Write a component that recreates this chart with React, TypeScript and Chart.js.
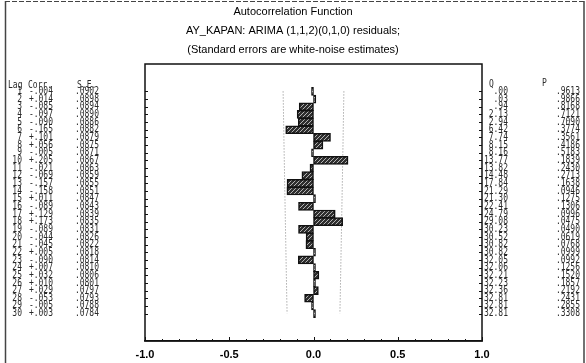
import React, { useEffect, useRef } from "react";
import { Chart, registerables } from "chart.js";

Chart.register(...registerables);

const lags = [1, 2, 3, 4, 5, 6, 7, 8, 9, 10, 11, 12, 13, 14, 15, 16, 17, 18, 19, 20, 21, 22, 23, 24, 25, 26, 27, 28, 29, 30];
const corr = [-0.004, 0.014, -0.085, -0.097, -0.09, -0.165, 0.101, 0.056, -0.005, 0.205, -0.021, -0.069, -0.157, -0.158, 0.011, -0.089, 0.129, 0.173, -0.089, -0.044, -0.045, 0.005, -0.09, 0.007, 0.032, 0.01, 0.029, -0.053, -0.005, 0.003];
const stdErr = [0.0902, 0.0898, 0.0894, 0.089, 0.0886, 0.0882, 0.0879, 0.0875, 0.0871, 0.0867, 0.0863, 0.0859, 0.0855, 0.0851, 0.0847, 0.0843, 0.0839, 0.0835, 0.0831, 0.0826, 0.0822, 0.0818, 0.0814, 0.081, 0.0806, 0.0801, 0.0797, 0.0793, 0.0788, 0.0784];
const qStat = [0.0, 0.03, 0.94, 2.13, 2.94, 6.42, 7.74, 8.15, 8.16, 13.77, 13.82, 14.48, 17.84, 21.29, 21.3, 22.41, 24.79, 29.08, 30.23, 30.52, 30.82, 30.82, 32.05, 32.06, 32.21, 32.23, 32.36, 32.81, 32.81, 32.81];
const pValue = [0.9613, 0.9866, 0.8168, 0.7121, 0.709, 0.3774, 0.3561, 0.4186, 0.5183, 0.1839, 0.243, 0.2713, 0.1638, 0.0946, 0.1275, 0.1306, 0.0996, 0.0475, 0.049, 0.0619, 0.0768, 0.0999, 0.0992, 0.1256, 0.152, 0.1857, 0.2192, 0.2431, 0.2855, 0.3308];
const xTicks = [-1, -0.5, 0, 0.5, 1];
const titleLines = [
  "Autocorrelation Function",
  "AY_KAPAN: ARIMA (1,1,2)(0,1,0) residuals;",
  "(Standard errors are white-noise estimates)",
];

const stripLead = (s: string) => s.replace(/^(-?)0\./, "$1.");
const fmtCorr = (v: number) => (v < 0 ? "-" : "+") + stripLead(Math.abs(v).toFixed(3));

function makePattern(): CanvasPattern | string {
  const c = document.createElement("canvas");
  c.width = 4;
  c.height = 4;
  const g = c.getContext("2d");
  if (!g) return "#444";
  g.fillStyle = "#2e2e2e";
  g.fillRect(0, 0, 4, 4);
  g.strokeStyle = "#b4b4b4";
  g.lineWidth = 1;
  g.beginPath();
  g.moveTo(-1, 5);
  g.lineTo(5, -1);
  g.moveTo(-1, 1);
  g.lineTo(1, -1);
  g.moveTo(3, 5);
  g.lineTo(5, 3);
  g.stroke();
  const p = g.createPattern(c, "repeat");
  return p || "#444";
}

const decor = {
  id: "decor",
  afterDraw(chart: any) {
    const ctx: CanvasRenderingContext2D = chart.ctx;
    const { left, right, top, bottom } = chart.chartArea;
    const xs = chart.scales.x;
    const ys = chart.scales.y;
    ctx.save();
    // outer frame
    ctx.strokeStyle = "#444";
    ctx.lineWidth = 1;
    ctx.setLineDash([5, 2]);
    ctx.beginPath();
    ctx.moveTo(5, 1.5);
    ctx.lineTo(584, 1.5);
    ctx.stroke();
    ctx.setLineDash([]);
    ctx.lineWidth = 1.5;
    ctx.beginPath();
    ctx.moveTo(5.5, 1);
    ctx.lineTo(5.5, 363);
    ctx.moveTo(584, 1);
    ctx.lineTo(584, 363);
    ctx.stroke();

    // titles
    ctx.fillStyle = "#000";
    ctx.font = '11px "Liberation Sans", Arial, sans-serif';
    ctx.textAlign = "center";
    ctx.textBaseline = "middle";
    ctx.fillText(titleLines[0], 293, 12);
    ctx.fillText(titleLines[1], 293, 31);
    ctx.fillText(titleLines[2], 293, 50);

    // plot frame
    ctx.strokeStyle = "#111";
    ctx.lineWidth = 1.5;
    ctx.strokeRect(left, top, right - left, bottom - top);

    // ticks
    ctx.lineWidth = 1;
    ctx.beginPath();
    lags.forEach((l) => {
      const y = Math.round(ys.getPixelForValue(l)) + 0.5;
      ctx.moveTo(left, y);
      ctx.lineTo(left + 3, y);
      ctx.moveTo(right - 3, y);
      ctx.lineTo(right, y);
    });
    for (let k = -10; k <= 10; k++) {
      const x = Math.round(xs.getPixelForValue(k / 10)) + 0.5;
      const len = k % 5 === 0 ? 4 : 2;
      ctx.moveTo(x, bottom);
      ctx.lineTo(x, bottom - len);
    }
    ctx.stroke();

    // tables
    ctx.fillStyle = "#2a2a2a";
    ctx.font = '10px "DejaVu Sans Mono", monospace';
    ctx.textBaseline = "middle";
    const txt = (s: string, x: number, y: number, align: CanvasTextAlign) => {
      ctx.save();
      ctx.translate(x, y);
      ctx.scale(0.8, 1);
      ctx.textAlign = align;
      ctx.fillText(s, 0, 0);
      ctx.restore();
    };
    const hy = ys.getPixelForValue(0.15);
    txt("Lag", 8, hy, "left");
    txt("Corr.", 28, hy, "left");
    txt("S.E.", 77, hy, "left");
    txt("Q", 489, hy - 1, "left");
    txt("P", 542, hy - 2, "left");
    lags.forEach((l, i) => {
      const y = ys.getPixelForValue(l);
      txt(String(l), 22, y, "right");
      txt(fmtCorr(corr[i]), 53, y, "right");
      txt(stripLead(stdErr[i].toFixed(4)), 99, y, "right");
      txt(stripLead(qStat[i].toFixed(2)), 508, y, "right");
      txt(stripLead(pValue[i].toFixed(4)), 580, y, "right");
    });
    ctx.restore();
  },
};

export default function App() {
  const ref = useRef<HTMLCanvasElement | null>(null);
  useEffect(() => {
    document.body.style.margin = "0";
    if (!ref.current) return;
    const pattern = makePattern();
    const chart = new Chart(ref.current, {
      type: "bar",
      data: {
        datasets: [
          {
            type: "bar",
            data: lags.map((l, i) => ({ x: corr[i], y: l })),
            backgroundColor: pattern as any,
            borderColor: "#111",
            borderWidth: 1.5,
            borderSkipped: false,
            barThickness: 8,
            minBarLength: 2,
            indexAxis: "y",
          } as any,
          {
            type: "line",
            data: lags.map((l, i) => ({ x: 2 * stdErr[i], y: l })),
            borderColor: "#808080",
            borderWidth: 1,
            borderDash: [1, 2],
            pointRadius: 0,
            indexAxis: "y",
          } as any,
          {
            type: "line",
            data: lags.map((l, i) => ({ x: -2 * stdErr[i], y: l })),
            borderColor: "#808080",
            borderWidth: 1,
            borderDash: [1, 2],
            pointRadius: 0,
            indexAxis: "y",
          } as any,
        ],
      },
      options: {
        indexAxis: "y",
        responsive: false,
        animation: false,
        devicePixelRatio: 1,
        layout: { padding: { left: 145, right: 104, top: 64, bottom: 0 } },
        plugins: { legend: { display: false }, title: { display: false }, tooltip: { enabled: false } },
        scales: {
          x: {
            type: "linear",
            min: -1,
            max: 1,
            afterBuildTicks: (s: any) => {
              s.ticks = xTicks.map((v) => ({ value: v }));
            },
            afterFit: (s: any) => {
              s.height = 22;
            },
            ticks: {
              padding: 7,
              color: "#000",
              font: { family: '"Liberation Sans", Arial, sans-serif', size: 11, weight: "bold" },
              callback: (v: any) => Number(v).toFixed(1),
            },
            grid: { display: false, drawTicks: false },
            border: { display: true, color: "#111", width: 1.5 },
          },
          y: {
            type: "linear",
            min: 0,
            max: 31,
            reverse: true,
            display: false,
          },
        },
      } as any,
      plugins: [decor],
    });
    return () => chart.destroy();
  }, []);
  return <canvas ref={ref} width={586} height={363} style={{ display: "block" }} />;
}
